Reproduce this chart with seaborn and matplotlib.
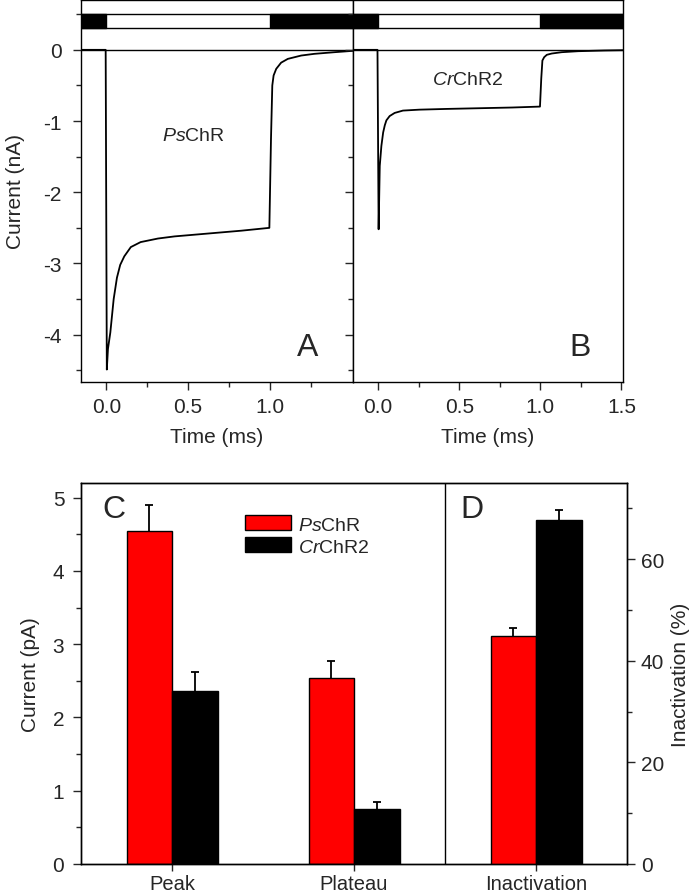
import numpy as np
import pandas as pd
import matplotlib
matplotlib.use("Agg")
import matplotlib.pyplot as plt
from matplotlib.patches import Patch
from matplotlib.ticker import MultipleLocator, FixedLocator
import seaborn as sns

# Photocurrent traces (time in ms, current in nA)
ps_time = [-0.155, -0.004, 0.003, 0.010, 0.0245, 0.045, 0.065, 0.085, 0.11, 0.15,
           0.21, 0.316, 0.418, 0.622, 0.826, 0.998, 1.008, 1.016, 1.024, 1.04,
           1.07, 1.111, 1.193, 1.274, 1.397, 1.51]
ps_current = [0, 0, -4.49, -4.2, -3.97, -3.5, -3.2, -3.02, -2.9, -2.77,
              -2.70, -2.65, -2.62, -2.58, -2.54, -2.50, -1.25, -0.50, -0.36, -0.267,
              -0.18, -0.127, -0.08, -0.056, -0.033, -0.014]

cr_time = [-0.155, -0.004, 0.003, 0.010, 0.020, 0.031, 0.041, 0.051, 0.071, 0.102,
           0.153, 0.255, 0.418, 0.622, 0.826, 0.998, 1.006, 1.013, 1.024, 1.04,
           1.07, 1.132, 1.234, 1.397, 1.51]
cr_current = [0, 0, -2.52, -1.63, -1.35, -1.16, -1.06, -0.99, -0.93, -0.886,
              -0.853, -0.84, -0.83, -0.82, -0.81, -0.797, -0.40, -0.15, -0.103, -0.07,
              -0.052, -0.033, -0.019, -0.009, -0.005]

light_on = 0.0
light_off = 1.0

# Bar summaries
measures = ["Peak", "Plateau", "Inactivation"]
constructs = ["PsChR", "CrChR2"]
current_measures = ["Peak", "Peak", "Plateau", "Plateau"]
current_constructs = ["PsChR", "CrChR2", "PsChR", "CrChR2"]
current_values = [4.55, 2.36, 2.54, 0.75]
current_errors = [0.35, 0.26, 0.23, 0.09]
inact_measures = ["Inactivation", "Inactivation"]
inact_constructs = ["PsChR", "CrChR2"]
inact_values = [44.9, 67.8]
inact_errors = [1.5, 1.8]

colors = {"PsChR": "#ff0000", "CrChR2": "#000000"}
labels = {"PsChR": r"$\mathit{Ps}$ChR", "CrChR2": r"$\mathit{Cr}$ChR2"}

sns.set_style("ticks")
plt.rcParams["font.family"] = ["Liberation Sans", "DejaVu Sans"]
plt.rcParams["mathtext.fontset"] = "custom"
plt.rcParams["mathtext.rm"] = "Liberation Sans"
plt.rcParams["mathtext.it"] = "Liberation Sans:italic"
plt.rcParams["axes.unicode_minus"] = False
plt.rcParams["axes.linewidth"] = 1.0
plt.rcParams["axes.edgecolor"] = "black"

TICK = 15
LAB = 15

fig = plt.figure(figsize=(6.93, 8.95), dpi=100)
axA = fig.add_axes([81 / 693, 1 - 383 / 895, 272 / 693, 382 / 895])
axB = fig.add_axes([353 / 693, 1 - 383 / 895, 270 / 693, 382 / 895], sharey=axA)

tmin, tmax = -0.155, 1.51
traces = [(axA, ps_time, ps_current), (axB, cr_time, cr_current)]
for ax, t, i in traces:
    ax.axhline(0, color="black", lw=1.0, zorder=1)
    sns.lineplot(x=t, y=i, ax=ax, color="black", lw=1.3, sort=False, estimator=None)
    # light stimulus bar
    ax.broken_barh([(tmin, tmax - tmin)], (0.30, 0.21), facecolors="white",
                   edgecolors="black", linewidth=1.0, zorder=2)
    ax.broken_barh([(tmin, light_on - tmin), (light_off, tmax - light_off)], (0.30, 0.21),
                   facecolors="black", edgecolors="black", linewidth=1.0, zorder=3)
    ax.set_xlim(tmin, tmax)
    ax.set_ylim(-4.665, 0.70)
    ax.xaxis.set_minor_locator(FixedLocator([0.25, 0.75, 1.25]))
    ax.tick_params(axis="x", which="major", direction="out", length=6, width=1,
                   labelsize=TICK, pad=5, top=False)
    ax.tick_params(axis="x", which="minor", direction="out", length=3.5, width=1, top=False)
    ax.set_xlabel("Time (ms)", fontsize=LAB, labelpad=8)
    for s in ax.spines.values():
        s.set_visible(True)
        s.set_linewidth(1.0)

axA.set_xticks([0.0, 0.5, 1.0])
axA.set_xticklabels(["0.0", "0.5", "1.0"])
axB.set_xticks([0.0, 0.5, 1.0, 1.5])
axB.set_xticklabels(["0.0", "0.5", "1.0", "1.5"])

axA.set_yticks([-4, -3, -2, -1, 0])
axA.yaxis.set_minor_locator(FixedLocator([-4.5, -3.5, -2.5, -1.5, -0.5, 0.5]))
axA.tick_params(axis="y", which="major", direction="out", length=6, width=1,
                labelsize=TICK, pad=8, right=False)
axA.tick_params(axis="y", which="minor", direction="out", length=3.5, width=1, right=False)
axA.set_ylabel("Current (nA)", fontsize=LAB, labelpad=13)
axB.tick_params(axis="y", which="both", direction="out", labelleft=False, right=False)
axB.tick_params(axis="y", which="major", length=6, width=1)
axB.tick_params(axis="y", which="minor", length=3.5, width=1)
axB.set_ylabel("")

axA.text(0.534, -1.20, labels["PsChR"], fontsize=14, ha="center", va="center")
axB.text(0.55, -0.41, labels["CrChR2"], fontsize=14, ha="center", va="center")
axA.text(1.234, -4.18, "A", fontsize=23, ha="center", va="center")
axB.text(1.244, -4.18, "B", fontsize=23, ha="center", va="center")

# Bottom panel: C (current) on left axis, D (inactivation) on twin right axis
axC = fig.add_axes([81 / 693, 1 - 865 / 895, 546 / 693, 381 / 895])
axD = axC.twinx()

df_c = pd.DataFrame({"measure": current_measures, "construct": current_constructs,
                     "value": current_values, "err": current_errors})
df_d = pd.DataFrame({"measure": inact_measures, "construct": inact_constructs,
                     "value": inact_values, "err": inact_errors})

for ax, df in [(axC, df_c), (axD, df_d)]:
    sns.barplot(data=df, x="measure", y="value", hue="construct", order=measures,
                hue_order=constructs, palette=colors, width=0.5, gap=0,
                edgecolor="black", linewidth=1.0, errorbar=None, legend=False,
                saturation=1, ax=ax)
    present = [m for m in measures if m in set(df["measure"])]
    for cont, level in zip(ax.containers, constructs):
        sub = df[df["construct"] == level].set_index("measure").reindex(present)
        for bar, err in zip(cont, sub["err"]):
            xc = bar.get_x() + bar.get_width() / 2
            h = bar.get_height()
            eb = ax.errorbar([xc], [h], yerr=[[0], [err]], fmt="none", ecolor="black",
                             elinewidth=1.3, capsize=3, capthick=1.3, zorder=5)
            # one-sided bar: hide the cap sitting on the bar top
            for cap in eb[1]:
                if np.isclose(cap.get_ydata()[0], h):
                    cap.set_visible(False)

axC.set_xlim(-0.5, 2.5)
axC.set_ylim(0, 5.2)
axD.set_ylim(0, 75)
axC.axvline(1.5, color="black", lw=1.0)

axC.set_yticks([0, 1, 2, 3, 4, 5])
axC.yaxis.set_minor_locator(MultipleLocator(0.5))
axC.tick_params(axis="y", which="major", direction="out", length=6, width=1,
                labelsize=TICK, pad=6, right=False)
axC.tick_params(axis="y", which="minor", direction="out", length=3.5, width=1, right=False)
axC.tick_params(axis="x", which="major", direction="out", length=5, width=1,
                labelsize=14.5, pad=2, top=False)
axC.set_xlabel("")
axD.set_xlabel("")
axC.set_ylabel("Current (pA)", fontsize=LAB, labelpad=9)

axD.set_yticks([0, 20, 40, 60])
axD.yaxis.set_minor_locator(FixedLocator([10, 30, 50, 70]))
axD.tick_params(axis="y", which="major", direction="out", length=6, width=1,
                labelsize=TICK, pad=4, left=False)
axD.tick_params(axis="y", which="minor", direction="out", length=3.5, width=1, left=False)
axD.set_ylabel("Inactivation (%)", fontsize=LAB, rotation=90, labelpad=5)

for ax in (axC, axD):
    for s in ax.spines.values():
        s.set_visible(True)
        s.set_linewidth(1.0)

axC.text(-0.32, 4.85, "C", fontsize=23, ha="center", va="center")
axC.text(1.65, 4.85, "D", fontsize=23, ha="center", va="center")

handles = [Patch(facecolor=colors[c], edgecolor="black", linewidth=1.0) for c in constructs]
axC.legend(handles, [labels[c] for c in constructs], loc="upper left",
           bbox_to_anchor=(0.30, 0.915), frameon=False, fontsize=14,
           handlelength=2.4, handleheight=0.8, labelspacing=0.2,
           handletextpad=0.35, borderpad=0, borderaxespad=0)

fig.savefig("out.png", dpi=100)
